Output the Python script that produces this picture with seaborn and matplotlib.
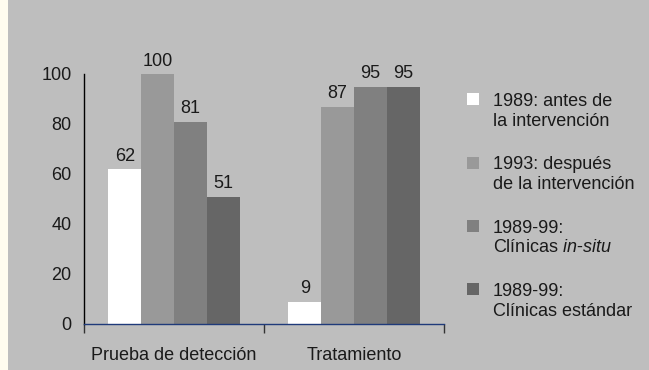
import matplotlib
matplotlib.use("Agg")
import matplotlib.pyplot as plt
import seaborn as sns
import pandas as pd
from matplotlib.patches import Patch, Rectangle
from matplotlib.legend_handler import HandlerPatch

# Data
categories = ["Prueba de detección", "Tratamiento"]
series = [
    "1989: antes de\nla intervención",
    "1993: después\nde la intervención",
    "1989-99:\nClínicas $\\mathit{in}$-$\\mathit{situ}$",
    "1989-99:\nClínicas estándar",
]
values_1989 = [62, 9]
values_1993 = [100, 87]
values_insitu = [81, 95]
values_estandar = [51, 95]
yticks = [0, 20, 40, 60, 80, 100]

colors = ["#ffffff", "#999999", "#808080", "#666666"]
bg = "#bebebe"

rows = []
for s, vals in zip(series, [values_1989, values_1993, values_insitu, values_estandar]):
    for c, v in zip(categories, vals):
        rows.append({"categoria": c, "serie": s, "valor": v})
df = pd.DataFrame(rows)

sns.set_theme(style="white")
plt.rcParams["font.family"] = ["Liberation Sans", "DejaVu Sans"]
plt.rcParams["mathtext.fontset"] = "custom"
plt.rcParams["mathtext.it"] = "Liberation Sans:italic"
plt.rcParams["mathtext.rm"] = "Liberation Sans"

FS = 13
TXT = "#1a1a1a"
W, H = 649, 370
fig = plt.figure(figsize=(W / 100, H / 100), dpi=100, facecolor=bg)
# cream strip on the left edge
fig.add_artist(Rectangle((0, 0), 8 / W, 1, transform=fig.transFigure,
                         facecolor="#fffcef", edgecolor="none", zorder=0))

ax = fig.add_axes([84 / W, 46 / H, 360 / W, 250 / H])
ax.set_facecolor(bg)

sns.barplot(data=df, x="categoria", y="valor", hue="serie", order=categories,
            hue_order=series, palette=colors, saturation=1, width=0.73,
            linewidth=0, ax=ax, legend=False)

for cont in ax.containers:
    ax.bar_label(cont, padding=3, fontsize=FS, color=TXT)

ax.set_ylim(0, 100)
ax.set_xlim(-0.5, 1.5)
ax.set_yticks(yticks)
ax.set_yticklabels([str(t) for t in yticks], fontsize=FS, color=TXT)
ax.tick_params(axis="y", left=False, length=0, pad=9)
ax.tick_params(axis="x", which="major", bottom=True, length=0, pad=16.5,
               labelsize=FS, labelcolor=TXT)
ax.set_xticks([-0.5, 0.5, 1.5], minor=True)
ax.tick_params(axis="x", which="minor", bottom=True, length=6.5, width=1,
               color="#333333", direction="out")
ax.set_xlabel("")
ax.set_ylabel("")

for side in ["top", "right"]:
    ax.spines[side].set_visible(False)
ax.spines["left"].set_color("black")
ax.spines["left"].set_linewidth(1)
ax.spines["left"].set_bounds(0, 100)
ax.spines["bottom"].set_color("#1f3a7a")
ax.spines["bottom"].set_linewidth(1)


def top_square(legend, orig_handle, xdescent, ydescent, width, height, fontsize):
    # square marker aligned with the first line of a two-line label
    s = 0.66 * fontsize
    return Rectangle((-xdescent, -ydescent + height - s + 3.6), s, s)


handles = [Patch(facecolor=c, edgecolor="none") for c in colors]
fig.legend(handles, series, loc="upper left",
           bbox_to_anchor=(467 / W, 1 - 93 / H), frameon=False,
           fontsize=FS, handlelength=0.66, handleheight=1.95,
           handletextpad=0.78, labelspacing=1.48, borderpad=0,
           borderaxespad=0, labelcolor=TXT,
           handler_map={Patch: HandlerPatch(patch_func=top_square)})

fig.savefig("out.png", dpi=100, facecolor=bg)
